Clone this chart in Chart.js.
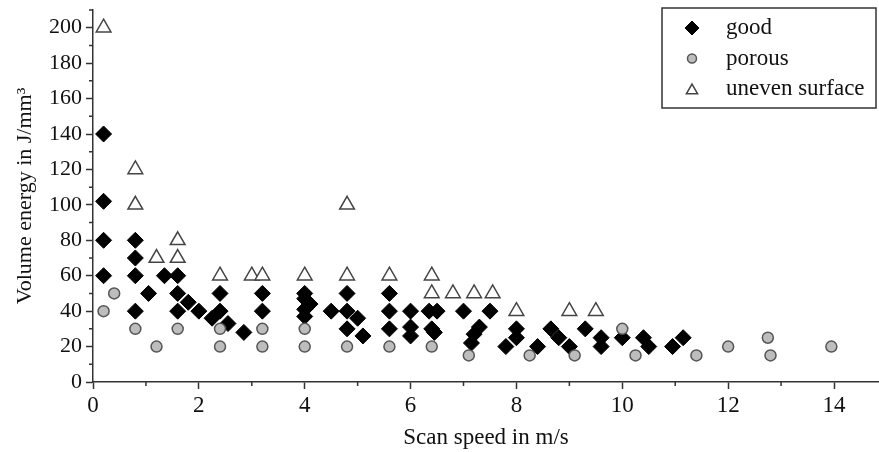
<!DOCTYPE html>
<html>
<head>
<meta charset="utf-8">
<script src="https://cdn.jsdelivr.net/npm/chart.js@4/dist/chart.umd.min.js"></script>
<style>
html,body{margin:0;padding:0;background:#fff;}
#wrap{width:879px;height:452px;}
</style>
</head>
<body>
<div id="wrap"><canvas id="c" width="879" height="452"></canvas></div>
<script>
const seriesNames = ["good", "porous", "uneven surface"];

const goodX = [0.2,0.2,0.2,0.2, 0.8,0.8,0.8,0.8,1.05, 1.35,1.6,1.6,1.8,1.6,2.0,2.25,
  2.4,2.4,2.55,2.85, 3.2,3.2, 4.0,4.0,4.1,4.0,4.0, 4.5,4.8,4.8,5.0,4.8,5.1,
  5.6,5.6,5.6, 6.0,6.0,6.0, 6.35,6.5,6.4,6.45, 7.0,7.3,7.2,7.15,7.5,
  7.8,8.0,8.0,8.4,8.65,8.8,9.0,9.3,9.6,9.6,10.0,10.4,10.5,10.95,11.15];
const goodY = [140,102,80,60, 80,70,60,40,50, 60,60,50,45,40,40,36,
  50,40,33,28, 50,40, 50,47,44,41,37, 40,50,40,36,30,26,
  50,40,30, 40,31,26, 40,40,30,28, 40,31,27,22,40,
  20,30,25,20,30,25,20,30,25,20,25,25,20,20,25];

const porousX = [0.2,0.4,0.8,1.2,1.6,2.4,2.4,3.2,3.2,4.0,4.0,4.8,5.6,6.4,7.1,8.25,9.1,10.0,10.25,11.4,12.0,12.75,12.8,13.95];
const porousY = [40,50,30,20,30,30,20,30,20,30,20,20,20,20,15,15,15,30,15,15,20,25,15,20];

const unevenX = [0.2,0.8,0.8,1.2,1.6,1.6,2.4,3.0,3.2,4.0,4.8,4.8,5.6,6.4,6.4,6.8,7.2,7.55,8.0,9.0,9.5];
const unevenY = [200,120,100,70,80,70,60,60,60,60,100,60,60,60,50,50,50,50,40,40,40];

const xTickStep = 2, yTickStep = 20;
const xMax = 14.85, yMax = 210;
const xTitle = "Scan speed in m/s";
const yTitle = "Volume energy in J/mm³";

const pts = (xs, ys) => xs.map((x, i) => ({x: x, y: ys[i]}));
const FONT = "'Liberation Serif', 'Times New Roman', serif";
const AX = '#333';

const stretchX = {
  id: 'stretchX',
  afterLayout(chart) {
    const xs = chart.scales.x;
    const target = chart.width;
    if (xs.right < target) {
      xs.right = target;
      xs.width = target - xs.left;
      xs.configure();
      chart.chartArea.right = target;
      chart.chartArea.width = target - chart.chartArea.left;
    }
  }
};

const minorTicks = {
  id: 'minorTicks',
  afterDraw(chart) {
    const ctx = chart.ctx, xs = chart.scales.x, ys = chart.scales.y;
    ctx.save();
    ctx.strokeStyle = AX; ctx.lineWidth = 1.5;
    ctx.beginPath();
    for (let v = 1; v < xMax; v += 2) {
      const p = xs.getPixelForValue(v);
      ctx.moveTo(p, ys.bottom); ctx.lineTo(p, ys.bottom + 4);
    }
    for (let v = 10; v <= yMax; v += 20) {
      const p = ys.getPixelForValue(v);
      ctx.moveTo(xs.left, p); ctx.lineTo(xs.left - 4, p);
    }
    ctx.stroke();
    ctx.restore();
  }
};

const boxLegend = {
  id: 'boxLegend',
  afterDraw(chart) {
    const ctx = chart.ctx;
    const left = 662, top = 8, right = 876, bottom = 108;
    ctx.save();
    ctx.fillStyle = '#fff';
    ctx.fillRect(left, top, right - left, bottom - top);
    ctx.strokeStyle = AX; ctx.lineWidth = 1.5;
    ctx.strokeRect(left, top, right - left, bottom - top);
    const rowH = 30.5;
    chart.data.datasets.forEach((ds, i) => {
      const cy = 28 + i * rowH;
      ctx.save();
      ctx.fillStyle = ds.backgroundColor;
      ctx.strokeStyle = ds.borderColor;
      ctx.lineWidth = ds.borderWidth;
      Chart.helpers.drawPoint(ctx, {pointStyle: ds.pointStyle, radius: ds.legendRadius, borderWidth: ds.borderWidth, rotation: 0}, 692, cy + (ds.pointStyle === 'triangle' ? 1.5 : 0));
      ctx.restore();
      ctx.fillStyle = '#111';
      ctx.font = '23px ' + FONT;
      ctx.textBaseline = 'middle';
      ctx.textAlign = 'left';
      ctx.fillText(ds.label, 726, cy);
    });
    ctx.restore();
  }
};

new Chart(document.getElementById('c'), {
  type: 'scatter',
  data: {
    datasets: [
      {label: seriesNames[0], data: pts(goodX, goodY), pointStyle: 'rectRot', pointRadius: 8, pointHoverRadius: 8,
       backgroundColor: '#000', borderColor: '#000', borderWidth: 1, legendRadius: 7, order: 2},
      {label: seriesNames[1], data: pts(porousX, porousY), pointStyle: 'circle', pointRadius: 5.5, pointHoverRadius: 5.5,
       backgroundColor: '#bdbdbd', borderColor: '#555', borderWidth: 1.5, legendRadius: 4.5, order: 1},
      {label: seriesNames[2], data: pts(unevenX, unevenY), pointStyle: 'triangle', pointRadius: 8.5, pointHoverRadius: 8.5,
       backgroundColor: '#fff', borderColor: '#444', borderWidth: 1.5, legendRadius: 6.5, order: 0}
    ]
  },
  options: {
    responsive: false,
    animation: false,
    layout: {padding: {top: 9, right: 0, left: 0, bottom: 0}},
    plugins: {legend: {display: false}, tooltip: {enabled: false}},
    scales: {
      x: {
        type: 'linear', min: 0, max: xMax,
        ticks: {stepSize: xTickStep, includeBounds: false, maxRotation: 0, padding: 3, color: '#111', font: {family: FONT, size: 23}},
        grid: {drawOnChartArea: false, tickLength: 7, tickColor: AX, tickWidth: 1.5},
        border: {color: AX, width: 1.5},
        title: {display: true, text: xTitle, color: '#111', font: {family: FONT, size: 23}, padding: {top: 0, bottom: 0}},
        afterFit(s) { s.height = 70; s.paddingLeft = 0; s.paddingRight = 0; }
      },
      y: {
        type: 'linear', min: 0, max: yMax,
        ticks: {stepSize: yTickStep, includeBounds: false, padding: 4, color: '#111', font: {family: FONT, size: 22}},
        grid: {drawOnChartArea: false, tickLength: 7, tickColor: AX, tickWidth: 1.5},
        border: {color: AX, width: 1.5},
        title: {display: true, text: yTitle, color: '#111', font: {family: FONT, size: 22}, padding: {top: 12, bottom: 0}},
        afterFit(s) { s.width = 93; s.paddingTop = 0; s.paddingBottom = 0; }
      }
    }
  },
  plugins: [stretchX, minorTicks, boxLegend]
});
</script>
</body>
</html>
